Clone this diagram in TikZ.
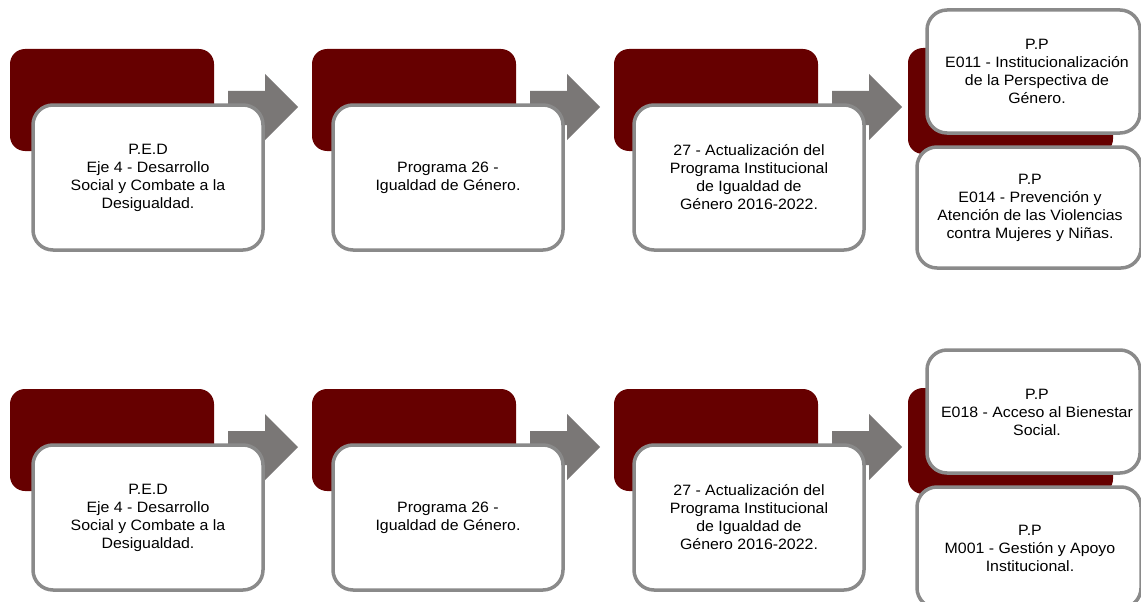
\documentclass[tikz,border=0pt]{standalone}
\usepackage{fontspec}
\setmainfont[FakeStretch=1.06]{Liberation Sans}
\usetikzlibrary{calc}
\definecolor{darkred}{HTML}{660000}
\definecolor{arrowgray}{HTML}{7A7776}
\definecolor{bordergray}{HTML}{8A8A8A}
\tikzset{
  darkbox/.style={fill=darkred, rounded corners=15pt, minimum width=204pt, minimum height=102pt, anchor=north west, inner sep=0pt, outer sep=0pt},
  wbox/.style={draw=bordergray, line width=3.5pt, fill=white, rounded corners=20pt, anchor=north west, inner sep=0pt, outer sep=0pt, align=center, text=black, font=\fontsize{15}{18}\selectfont},
  txt/.style={align=center, text=black, font=\fontsize{15}{18}\selectfont, inner sep=0pt},
  arr/.style={fill=arrowgray}
}
\newcommand{\myarrow}[1]{%
  \fill[arr] ($(#1.north east)+(14,42)$) -- ($(#1.north east)+(51,42)$) -- ($(#1.north east)+(51,25)$) -- ($(#1.north east)+(84,58)$) -- ($(#1.north east)+(51,91)$) -- ($(#1.north east)+(51,76)$) -- ($(#1.north east)+(14,76)$) -- cycle;}
\begin{document}
\begin{tikzpicture}[x=1pt,y=-1pt]
\useasboundingbox (0,0) rectangle (1141,602);
\foreach \r/\dy in {a/0,b/340}{
  % dark boxes
  \node[darkbox] (\r d1) at (10,49+\dy) {};
  \node[darkbox] (\r d2) at (312,49+\dy) {};
  \node[darkbox] (\r d3) at (614,49+\dy) {};
  \node[darkbox, minimum width=205pt, minimum height=106pt] (\r d4) at (908,48+\dy) {};
  % arrows
  \myarrow{\r d1}
  \myarrow{\r d2}
  \myarrow{\r d3}
}
% Row 1 white boxes
\node[wbox, minimum width=230pt, minimum height=145pt] (aw1) at (33,105) {P.E.D\\Eje 4 - Desarrollo\\Social y Combate a la\\Desigualdad.};
\node[wbox, minimum width=230pt, minimum height=145pt] (aw2) at (333,105) {Programa 26 -\\Igualdad de Género.};
\node[wbox, minimum width=230pt, minimum height=145pt] (aw3) at (634,105) {27 - Actualización del\\Programa Institucional\\de Igualdad de\\Género 2016-2022.};
\node[wbox, minimum width=213pt, minimum height=123pt] (aw4) at (927,10) {};
\node[txt] (at4) at (1037,71.5) {P.P\\E011 - Institucionalización\\de la Perspectiva de\\Género.};
\node[wbox, minimum width=224pt, minimum height=121pt] (aw5) at (917,147) {};
\node[txt] (at5) at (1030,208) {P.P\\E014 - Prevención y\\Atención de las Violencias\\contra Mujeres y Niñas.};
% Row 2 white boxes
\node[wbox, minimum width=230pt, minimum height=145pt] (bw1) at (33,445) {P.E.D\\Eje 4 - Desarrollo\\Social y Combate a la\\Desigualdad.};
\node[wbox, minimum width=230pt, minimum height=145pt] (bw2) at (333,445) {Programa 26 -\\Igualdad de Género.};
\node[wbox, minimum width=230pt, minimum height=145pt] (bw3) at (634,445) {27 - Actualización del\\Programa Institucional\\de Igualdad de\\Género 2016-2022.};
\node[wbox, minimum width=213pt, minimum height=123pt] (bw4) at (927,350) {};
\node[txt] (bt4) at (1037,412) {P.P\\E018 - Acceso al Bienestar\\Social.};
\node[wbox, minimum width=224pt, minimum height=121pt] (bw5) at (917,487) {};
\node[txt] (bt5) at (1030,548) {P.P\\M001 - Gestión y Apoyo\\Institucional.};
\end{tikzpicture}
\end{document}
